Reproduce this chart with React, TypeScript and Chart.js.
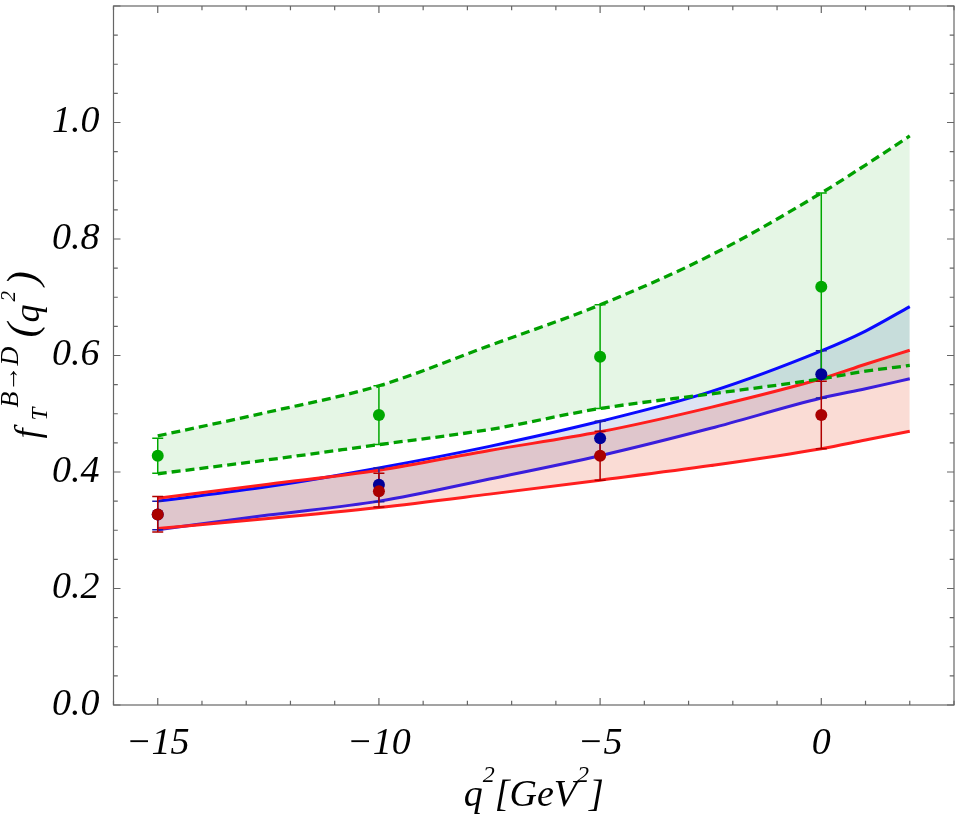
import React, { useEffect, useRef } from "react";
import { Chart, registerables } from "chart.js";

Chart.register(...registerables);

// band curves at these q^2 values
const curveQ = [-15, -12.5, -10, -7.5, -5, -2.5, 0, 1, 2];
const greenUpper = [0.462, 0.503, 0.548, 0.617, 0.687, 0.772, 0.879, 0.927, 0.977];
const greenLower = [0.397, 0.421, 0.447, 0.473, 0.509, 0.534, 0.56, 0.573, 0.583];
const blueUpper = [0.35, 0.375, 0.407, 0.444, 0.487, 0.538, 0.608, 0.642, 0.684];
const blueLower = [0.301, 0.326, 0.35, 0.388, 0.428, 0.475, 0.527, 0.543, 0.56];
const redUpper = [0.355, 0.379, 0.403, 0.437, 0.469, 0.511, 0.56, 0.585, 0.609];
const redLower = [0.303, 0.32, 0.339, 0.362, 0.386, 0.411, 0.44, 0.455, 0.47];

// data points with error bars
const pointQ = [-15, -10, -5, 0];
const greenPoints = [0.428, 0.498, 0.598, 0.718];
const greenLow = [0.398, 0.447, 0.509, 0.56];
const greenHigh = [0.458, 0.548, 0.687, 0.879];
const bluePoints = [0.327, 0.378, 0.458, 0.568];
const blueLow = [0.301, 0.349, 0.429, 0.527];
const blueHigh = [0.35, 0.407, 0.487, 0.608];
const redPoints = [0.327, 0.367, 0.428, 0.498];
const redLow = [0.297, 0.34, 0.386, 0.44];
const redHigh = [0.358, 0.398, 0.47, 0.556];

const xTickValues = [-15, -10, -5, 0];
const yTickValues = [0, 0.2, 0.4, 0.6, 0.8, 1.0];

const SERIF = '"Liberation Serif", "Times New Roman", serif';

const toXY = (xs: number[], ys: number[]) => xs.map((x, i) => ({ x, y: ys[i] }));

const errorSets = [
  { low: blueLow, high: blueHigh, color: "#1c1ca8" },
  { low: greenLow, high: greenHigh, color: "#00a800" },
  { low: redLow, high: redHigh, color: "#b00000" },
];

// error bars go in just before the first point set is drawn
const errorBarsPlugin = {
  id: "errorBars",
  beforeDatasetDraw(chart: any, args: any) {
    if (!chart.data.datasets[args.index].firstPoints) return;
    const { ctx, scales } = chart;
    ctx.save();
    ctx.lineWidth = 1.5;
    errorSets.forEach((set) => {
      ctx.strokeStyle = set.color;
      ctx.beginPath();
      pointQ.forEach((q, i) => {
        const px = scales.x.getPixelForValue(q);
        const yl = scales.y.getPixelForValue(set.low[i]);
        const yh = scales.y.getPixelForValue(set.high[i]);
        ctx.moveTo(px, yl);
        ctx.lineTo(px, yh);
        ctx.moveTo(px - 5.5, yl);
        ctx.lineTo(px + 5.5, yl);
        ctx.moveTo(px - 5.5, yh);
        ctx.lineTo(px + 5.5, yh);
      });
      ctx.stroke();
    });
    ctx.restore();
  },
};

// Mathematica-like frame with inward ticks on all four sides
const frameTicksPlugin = {
  id: "frameTicks",
  afterDraw(chart: any) {
    const { ctx, chartArea: a, scales } = chart;
    const sx = scales.x;
    const sy = scales.y;
    ctx.save();
    ctx.strokeStyle = "#666";
    ctx.lineWidth = 1.2;
    ctx.strokeRect(a.left, a.top, a.right - a.left, a.bottom - a.top);
    ctx.beginPath();
    for (let v = Math.ceil(sx.min); v <= sx.max; v++) {
      const px = sx.getPixelForValue(v);
      const len = v % 5 === 0 ? 7 : 4.3;
      ctx.moveTo(px, a.bottom);
      ctx.lineTo(px, a.bottom - len);
      ctx.moveTo(px, a.top);
      ctx.lineTo(px, a.top + len);
    }
    for (let i = 0; i <= 24; i++) {
      const py = sy.getPixelForValue(i * 0.05);
      const len = i % 4 === 0 ? 7 : 4.3;
      ctx.moveTo(a.left, py);
      ctx.lineTo(a.left + len, py);
      ctx.moveTo(a.right, py);
      ctx.lineTo(a.right - len, py);
    }
    ctx.stroke();
    ctx.restore();
  },
};

const axisTitlesPlugin = {
  id: "axisTitles",
  afterDraw(chart: any) {
    const { ctx, chartArea: a } = chart;
    const main = `italic 36px ${SERIF}`;
    const paren = `italic 43px ${SERIF}`;
    const sup = `italic 26px ${SERIF}`;
    const sub = `italic 23px ${SERIF}`;
    const small = `italic 21px ${SERIF}`;

    // y title: f_T^{B->D} (q^2), read bottom to top
    ctx.save();
    ctx.fillStyle = "#000";
    ctx.textBaseline = "alphabetic";
    ctx.translate(39, (a.top + a.bottom) / 2);
    ctx.rotate(-Math.PI / 2);
    const x0 = -85;
    const piece = (t: string, f: string, dx: number, dy: number) => {
      ctx.font = f;
      ctx.fillText(t, x0 + dx, dy);
    };
    piece("f", main, 2, 0);
    piece("T", sub, 20, 8);
    piece("B\u2192D", sup, 33, -21);
    piece("(", paren, 103, -3);
    piece("q", main, 118, 0);
    piece("2", small, 139, -24);
    piece(")", paren, 155, -3);
    ctx.restore();

    // x title: q^2 [GeV^2]
    ctx.save();
    ctx.fillStyle = "#000";
    ctx.textBaseline = "alphabetic";
    const xMain = `italic 38px ${SERIF}`;
    const xSup = `italic 24px ${SERIF}`;
    const parts = [
      { t: "q", f: xMain, dy: 0 },
      { t: "2", f: xSup, dy: -24 },
      { t: "[GeV", f: xMain, dy: 0 },
      { t: "2", f: xSup, dy: -24 },
      { t: "]", f: xMain, dy: 0 },
    ];
    const widths = parts.map((p) => {
      ctx.font = p.f;
      return ctx.measureText(p.t).width;
    });
    const tw = widths.reduce((s, v) => s + v, 0);
    let cx = (a.left + a.right) / 2 - tw / 2;
    const base = a.bottom + 101;
    parts.forEach((p, i) => {
      ctx.font = p.f;
      ctx.fillText(p.t, cx, base + p.dy);
      cx += widths[i];
    });
    ctx.restore();
  },
};

const App: React.FC = () => {
  const chartRef = useRef<HTMLCanvasElement>(null);
  const chartInstance = useRef<Chart | null>(null);

  useEffect(() => {
    if (!chartRef.current) return;
    if (chartInstance.current) chartInstance.current.destroy();

    const curve = (data: number[], color: string, extra: any = {}) => ({
      data: toXY(curveQ, data),
      borderColor: color,
      borderWidth: 3,
      pointRadius: 0,
      cubicInterpolationMode: "monotone",
      fill: false,
      ...extra,
    });
    const points = (data: number[], color: string, order: number, extra: any = {}) => ({
      data: toXY(pointQ, data),
      showLine: false,
      pointRadius: 6,
      pointBackgroundColor: color,
      pointBorderColor: color,
      pointBorderWidth: 0,
      order,
      ...extra,
    });

    chartInstance.current = new Chart(chartRef.current, {
      type: "line",
      data: {
        datasets: [
          curve(greenUpper, "#00a000", {
            borderDash: [9, 5],
            borderWidth: 3.3,
            fill: "+1",
            backgroundColor: "rgba(0, 170, 0, 0.1)",
            order: 5,
          }),
          curve(greenLower, "#00a000", { borderDash: [9, 5], borderWidth: 3.3, order: 5 }),
          curve(blueUpper, "#0a0aff", {
            fill: "+1",
            backgroundColor: "rgba(85, 115, 195, 0.2)",
            order: 7,
          }),
          curve(blueLower, "#3a1edc", { order: 7 }),
          curve(redUpper, "#ff1e1e", {
            fill: "+1",
            backgroundColor: "rgba(230, 80, 45, 0.2)",
            order: 6,
          }),
          curve(redLower, "#ff1e1e", { order: 6 }),
          points(bluePoints, "#000099", 3, { firstPoints: true }),
          points(redPoints, "#aa0000", 2),
          points(greenPoints, "#00a800", 1),
        ] as any,
      },
      options: {
        animation: false,
        responsive: true,
        maintainAspectRatio: false,
        events: [],
        layout: { padding: { top: 1, right: 1, left: 0, bottom: 0 } },
        plugins: {
          legend: { display: false },
          tooltip: { enabled: false },
          filler: { drawTime: "beforeDatasetsDraw" },
        } as any,
        scales: {
          x: {
            type: "linear",
            min: -16,
            max: 3,
            grid: { display: false },
            border: { display: false },
            afterBuildTicks: (axis: any) => {
              axis.ticks = xTickValues.map((value) => ({ value }));
            },
            afterFit: (axis: any) => {
              axis.height = 110;
              axis.paddingLeft = 0;
              axis.paddingRight = 0;
            },
            ticks: {
              padding: 8,
              color: "#000",
              autoSkip: false,
              maxRotation: 0,
              font: { family: SERIF, size: 38, style: "italic" },
              callback: (v: any) => (v < 0 ? "\u2212" + Math.abs(v) : String(v)),
            },
          },
          y: {
            type: "linear",
            min: 0,
            max: 1.2,
            grid: { display: false },
            border: { display: false },
            afterBuildTicks: (axis: any) => {
              axis.ticks = yTickValues.map((value) => ({ value }));
            },
            afterFit: (axis: any) => {
              axis.width = 113.5;
              axis.paddingTop = 0;
              axis.paddingBottom = 0;
            },
            ticks: {
              padding: 6,
              color: "#000",
              autoSkip: false,
              font: { family: SERIF, size: 38, style: "italic" },
              callback: (v: any) => Number(v).toFixed(1),
            },
          },
        } as any,
      },
      plugins: [errorBarsPlugin, frameTicksPlugin, axisTitlesPlugin],
    });

    return () => {
      if (chartInstance.current) {
        chartInstance.current.destroy();
        chartInstance.current = null;
      }
    };
  }, []);

  return (
    <div
      style={{
        position: "absolute",
        left: 0,
        top: 0,
        width: 960,
        height: 815,
        background: "#fff",
      }}
    >
      <canvas ref={chartRef}></canvas>
    </div>
  );
};

export default App;
